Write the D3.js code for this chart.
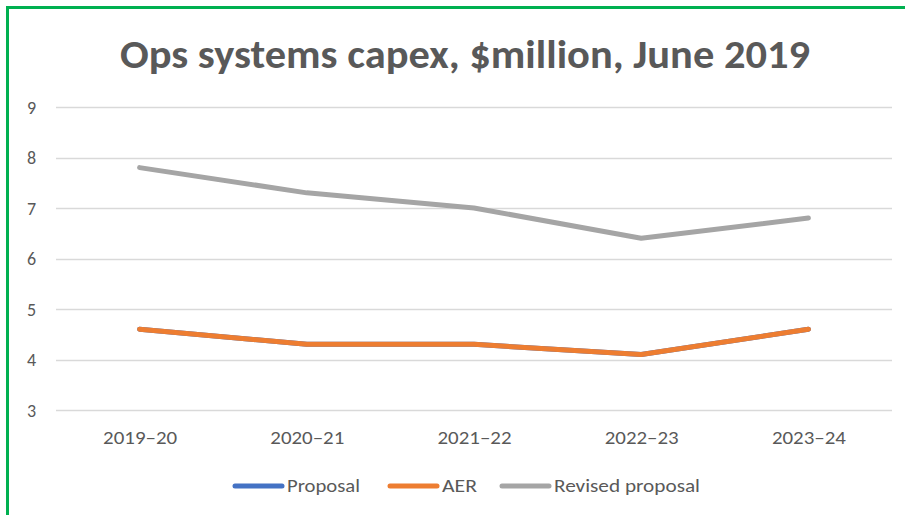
<!DOCTYPE html>
<html>
<head>
<meta charset="utf-8">
<script src="https://cdn.jsdelivr.net/npm/d3@7"></script>
<style>
  html, body { margin: 0; padding: 0; background: #fff; }
  svg { display: block; }
</style>
</head>
<body>
<svg id="chart" width="905" height="515"></svg>
<script>
// Ops systems capex by financial year, $million
const years = ["2019\u201320", "2020\u201321", "2021\u201322", "2022\u201323", "2023\u201324"];
const proposal = [4.6, 4.3, 4.3, 4.1, 4.6];
const aer = [4.6, 4.3, 4.3, 4.1, 4.6];
const revisedProposal = [7.8, 7.3, 7.0, 6.4, 6.8];
const yTicks = [3, 4, 5, 6, 7, 8, 9];
const seriesNames = ["Proposal", "AER", "Revised proposal"];
const seriesColors = ["#4472c4", "#ed7d31", "#a5a5a5"];

const series = [
  { name: seriesNames[0], values: proposal, color: seriesColors[0] },
  { name: seriesNames[1], values: aer, color: seriesColors[1] },
  { name: seriesNames[2], values: revisedProposal, color: seriesColors[2] }
];

const svg = d3.select("#chart");
const font = "Calibri, Carlito, Lato, 'Open Sans', sans-serif";
const textColor = "#595959";

// outer frame
svg.append("rect")
  .attr("x", 7.5).attr("y", 7.5)
  .attr("width", 905).attr("height", 515)
  .attr("fill", "none")
  .attr("stroke", "#00b050")
  .attr("stroke-width", 3);

// title
svg.append("text")
  .attr("x", 465).attr("y", 68)
  .attr("text-anchor", "middle")
  .attr("font-family", font)
  .attr("font-weight", 700)
  .attr("font-size", 40)
  .attr("fill", textColor)
  .attr("textLength", 690)
  .attr("lengthAdjust", "spacingAndGlyphs")
  .text("Ops systems capex, $million, June 2019");

const plot = { left: 56, right: 892, top: 107, bottom: 410 };

const x = d3.scalePoint()
  .domain(years)
  .range([plot.left, plot.right])
  .padding(0.5);

const y = d3.scaleLinear()
  .domain([3, 9])
  .range([plot.bottom, plot.top]);

// horizontal gridlines
svg.append("g")
  .selectAll("line")
  .data(yTicks)
  .join("line")
  .attr("x1", plot.left).attr("x2", plot.right)
  .attr("y1", d => Math.round(y(d)) + 0.5)
  .attr("y2", d => Math.round(y(d)) + 0.5)
  .attr("stroke", "#d9d9d9")
  .attr("stroke-width", 1.5);

// y axis labels
const yAxis = svg.append("g")
  .attr("transform", `translate(${plot.left - 20},0)`)
  .call(d3.axisLeft(y).tickValues(yTicks).tickSize(0).tickPadding(0).tickFormat(d3.format("d")));
yAxis.select(".domain").remove();
yAxis.selectAll("text")
  .attr("font-family", font)
  .attr("font-size", 18)
  .attr("fill", textColor)
  .attr("dy", "0.35em");

// x axis labels
const xAxis = svg.append("g")
  .attr("transform", `translate(0,${plot.bottom + 21})`)
  .call(d3.axisBottom(x).tickSize(0).tickPadding(0));
xAxis.select(".domain").remove();
xAxis.selectAll("text")
  .attr("font-family", font)
  .attr("font-size", 18)
  .attr("fill", textColor)
  .attr("dy", "0.71em")
  .attr("textLength", 74)
  .attr("lengthAdjust", "spacingAndGlyphs");

// series lines
const line = d3.line()
  .x((d, i) => x(years[i]))
  .y(d => y(d));

svg.append("g")
  .selectAll("path")
  .data(series)
  .join("path")
  .attr("d", d => line(d.values))
  .attr("fill", "none")
  .attr("stroke", d => d.color)
  .attr("stroke-width", 5)
  .attr("stroke-linecap", "round")
  .attr("stroke-linejoin", "round");

// legend
const legendX = [235, 390, 502];
const legendTextWidth = [73, 35, 146];
const legend = svg.append("g")
  .selectAll("g")
  .data(series)
  .join("g")
  .attr("transform", (d, i) => `translate(${legendX[i]},486)`);
legend.append("line")
  .attr("x1", 0).attr("x2", 47)
  .attr("stroke", d => d.color)
  .attr("stroke-width", 5)
  .attr("stroke-linecap", "round");
legend.append("text")
  .attr("x", 52)
  .attr("dy", "0.36em")
  .attr("font-family", font)
  .attr("font-size", 18)
  .attr("fill", textColor)
  .attr("textLength", (d, i) => legendTextWidth[i])
  .attr("lengthAdjust", "spacingAndGlyphs")
  .text(d => d.name);
</script>
</body>
</html>
